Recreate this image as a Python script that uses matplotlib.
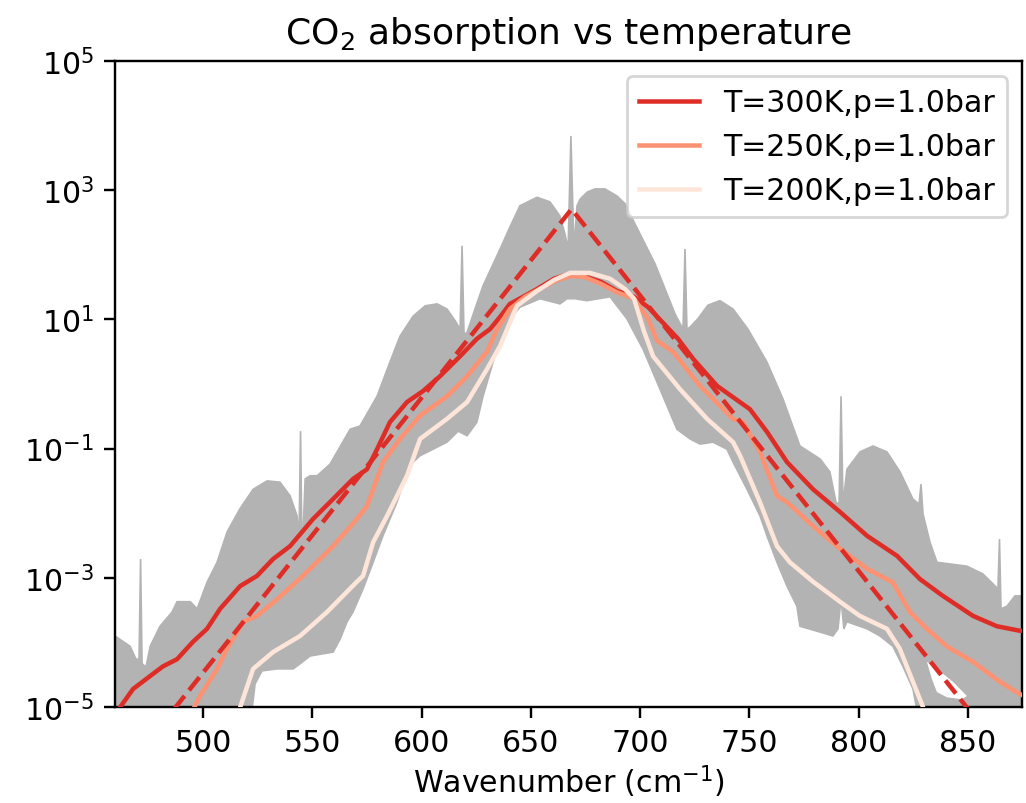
import numpy as np
import matplotlib
matplotlib.use("Agg")
import matplotlib.pyplot as plt
from matplotlib.ticker import NullLocator, FixedLocator

plt.rcParams['font.family'] = ['DejaVu Sans']
plt.rcParams['font.size'] = 10.8
plt.rcParams['axes.linewidth'] = 0.86
for a in ('xtick', 'ytick'):
    plt.rcParams[a + '.major.size'] = 3.8
    plt.rcParams[a + '.major.width'] = 0.86
    plt.rcParams[a + '.major.pad'] = 3.8

# ---- gray line-by-line spectrum envelope (wavenumber, log10 absorption) ----
upper_wn = [459.7, 466.6, 469.3, 470.7, 471.4, 472.1, 473.9, 475.8, 480.3, 485.8, 488.1, 494.1, 497.3,
            501.8, 506.4, 511.0, 516.9, 522.9, 529.3, 535.2, 539.8, 543.0, 543.9, 544.6, 545.3, 546.7,
            549.0, 552.2, 558.1, 567.3, 571.8, 579.6, 585.5, 590.1, 596.1, 601.6, 607.1, 611.6, 615.3,
            617.6, 618.5, 619.4, 620.8, 624.4, 628.1, 635.9, 640.4, 645.0, 652.8, 658.7, 663.3, 665.6,
            667.0, 668.3, 669.7, 671.1, 672.5, 675.7, 679.3, 683.9, 689.4, 693.1, 697.6, 702.2, 706.8,
            711.4, 716.0, 719.6,
            720.5, 721.4, 722.8, 726.4, 731.0, 736.5, 742.5, 749.3, 758.0, 765.3, 773.1, 782.3, 786.8,
            789.6, 791.0, 791.9, 792.8, 794.6, 800.6, 806.5, 812.9, 818.9, 824.8, 827.6, 828.5, 829.4,
            832.6, 835.8, 849.5, 856.8, 863.7, 864.4, 865.1, 867.8, 871.5, 875.0]
upper_lg = [-3.90, -4.06, -4.26, -4.26, -2.71, -4.33, -4.38, -4.06, -3.75, -3.53, -3.37, -3.37, -3.48,
            -3.07, -2.76, -2.29, -1.93, -1.63, -1.50, -1.52, -1.73, -2.04, -2.40, -0.73, -2.71, -1.47,
            -1.42, -1.42, -1.24, -0.70, -0.65, -0.19, 0.34, 0.74, 1.05, 1.21, 1.24, 1.16, 0.98,
            0.85, 2.14, 0.77, 0.80, 1.16, 1.52, 2.09, 2.43, 2.76, 2.89, 2.82, 2.60, 2.32,
            2.09, 3.84, 2.09, 2.76, 2.86, 2.97, 3.02, 3.02, 2.91, 2.79, 2.48, 2.17, 1.86,
            1.47, 1.08, 0.85,
            2.09, 0.85, 0.88, 1.01, 1.22, 1.29, 1.16, 0.85, 0.34, -0.23, -0.96, -1.16, -1.36,
            -1.83, -1.86, -0.19, -1.86, -1.32, -1.05, -0.96, -1.05, -1.36, -1.78, -1.86, -1.55, -2.01,
            -2.45, -2.76, -2.82, -2.94, -3.17, -2.40, -3.48, -3.44, -3.28, -3.28]

lower_wn = [459.7, 521.5, 523.8, 527.0, 533.9, 541.2, 544.4, 549.0, 559.5, 562.7, 565.9, 568.6, 573.2,
            577.8, 582.3, 588.7, 593.3, 596.1, 599.3, 605.2, 611.6, 616.7, 620.8, 625.3, 628.1, 632.7,
            635.9, 640.4, 645.0, 654.2, 663.3, 666.5, 670.2, 675.7, 686.2, 693.9, 701.3, 707.7, 712.3,
            716.8, 722.8, 727.4, 733.3, 739.7, 742.5, 748.9, 754.8, 758.0, 762.6, 767.2, 771.7, 773.1,
            782.3, 788.2, 790.5, 791.9, 793.2, 794.6, 803.8, 809.7, 815.6, 820.2, 824.8, 828.0, 875.0]
lower_lg = [-5.3, -5.3, -4.64, -4.44, -4.41, -4.41, -4.33, -4.21, -4.15, -3.95, -3.68, -3.53, -3.17,
            -2.76, -2.35, -1.83, -1.36, -1.21, -1.11, -1.01, -0.90, -0.73, -0.80, -0.59, -0.19, 0.34,
            0.65, 1.01, 1.19, 1.32, 1.24, 1.32, 1.32, 1.29, 1.35, 1.01, 0.54, 0.03, -0.34,
            -0.70, -0.85, -0.93, -0.90, -1.01, -1.21, -1.63, -2.04, -2.35, -2.76, -3.13, -3.44, -3.75,
            -3.84, -3.90, -3.79, -3.33, -3.79, -3.68, -3.79, -3.90, -4.06, -4.37, -4.72, -5.3, -5.3]

# gap inside the gray band near the bottom right
gap_wn = [831.2, 835.8, 843.1, 849.5, 847.2, 840.4, 835.8, 833.5]
gap_lg = [-4.30, -4.41, -4.61, -4.83, -4.88, -4.85, -4.77, -4.57]

# ---- smoothed band-averaged absorption (wavenumber, log10 value) ----
t300_wn = [460.0, 468.0, 475.8, 481.7, 488.1, 495.4, 501.8, 507.8, 516.9, 524.7, 532.0, 539.8, 550.3,
           559.5, 568.6, 575.0, 579.6, 585.5, 593.3, 600.6, 608.4, 617.6, 625.3, 631.3, 635.9, 640.4,
           646.4, 652.8, 660.6, 667.9, 674.3, 682.1, 689.4, 697.2, 703.6, 710.9, 717.3, 724.2, 735.2,
           750.2, 758.0, 767.2, 779.1, 791.4, 803.8, 817.5, 828.0, 838.5, 852.3, 863.2, 873.7, 875.0]
t300_lg = [-5.10, -4.72, -4.52, -4.37, -4.26, -3.99, -3.79, -3.48, -3.13, -2.97, -2.71, -2.51, -2.09,
           -1.78, -1.47, -1.32, -1.01, -0.59, -0.28, -0.11, 0.12, 0.43, 0.70, 0.85, 1.04, 1.24,
           1.35, 1.47, 1.63, 1.71, 1.67, 1.58, 1.44, 1.35, 1.19, 0.93, 0.70, 0.39, -0.03,
           -0.39, -0.74, -1.21, -1.63, -1.98, -2.35, -2.66, -3.02, -3.28, -3.59, -3.75, -3.82, -3.82]

t250_wn = [490.0, 498.6, 506.4, 511.0, 518.3, 524.7, 533.9, 545.7, 559.5, 570.4, 575.0, 582.3, 590.1,
           599.3, 611.6, 620.8, 629.9, 634.5, 640.4, 647.3, 660.6, 667.9, 674.3, 682.1, 689.4, 697.2,
           703.6, 707.7, 715.0, 727.4, 742.5, 747.0, 754.8, 762.6, 767.2, 779.1, 791.4, 803.8, 815.6,
           823.4, 831.2, 840.3, 852.3, 864.6, 873.7, 875.0]
t250_lg = [-5.40, -4.83, -4.41, -4.10, -3.68, -3.59, -3.33, -2.97, -2.51, -2.09, -1.89, -1.21, -0.85,
           -0.49, -0.19, 0.12, 0.50, 0.85, 1.16, 1.35, 1.59, 1.67, 1.66, 1.55, 1.42, 1.32,
           1.01, 0.67, 0.50, -0.03, -0.54, -0.59, -1.05, -1.73, -1.83, -2.20, -2.55, -2.86, -3.07,
           -3.53, -3.79, -4.06, -4.30, -4.61, -4.80, -4.82]

t200_wn = [514.0, 522.9, 532.0, 544.4, 556.7, 570.4, 573.2, 577.8, 584.2, 593.3, 599.3, 611.6, 620.8,
           629.9, 635.9, 643.6, 652.8, 660.6, 667.9, 677.0, 686.2, 693.0, 697.2, 701.7, 705.9, 718.2,
           730.6, 742.5, 745.7, 754.8, 762.6, 768.5, 779.1, 791.4, 800.5, 812.9, 818.8, 824.8, 829.4,
           831.0]
t200_lg = [-5.30, -4.41, -4.15, -3.90, -3.53, -3.06, -2.97, -2.45, -2.04, -1.42, -0.85, -0.54, -0.28,
           0.23, 0.59, 1.21, 1.44, 1.61, 1.72, 1.72, 1.63, 1.47, 1.32, 0.82, 0.43, -0.08,
           -0.54, -0.90, -1.11, -1.83, -2.51, -2.76, -3.06, -3.37, -3.59, -3.79, -4.10, -4.61, -5.00,
           -5.30]

# ---- exponential fit (dashed) ----
fit_wn = [480.0, 668.6, 860.0]
fit_val = [4.8e-6, 5.1e2, 3.5e-6]

labels = ['T=300K,p=1.0bar', 'T=250K,p=1.0bar', 'T=200K,p=1.0bar']
colors = ['#de2d26', '#fc9272', '#fee5d9']
LW = 1.62

fig = plt.figure(figsize=(5.13, 4.02), dpi=200)
ax = fig.add_axes([115 / 1026, 1 - 708 / 804, 907 / 1026, 646 / 804])

poly_x = np.concatenate([upper_wn, lower_wn[::-1]])
poly_y = 10.0 ** np.concatenate([upper_lg, lower_lg[::-1]])
ax.fill(poly_x, poly_y, color='0.7', lw=0.6, ec='0.7', zorder=1)
ax.fill(gap_wn, 10.0 ** np.array(gap_lg), color='white', lw=0, zorder=1.5)

ax.plot(t300_wn, 10.0 ** np.array(t300_lg), color=colors[0], lw=LW, label=labels[0], zorder=3)
ax.plot(t250_wn, 10.0 ** np.array(t250_lg), color=colors[1], lw=LW, label=labels[1], zorder=3)
ax.plot(t200_wn, 10.0 ** np.array(t200_lg), color=colors[2], lw=LW, label=labels[2], zorder=3)
ax.plot(fit_wn, fit_val, color=colors[0], lw=LW, ls='--', zorder=4)

ax.set_yscale('log')
ax.set_xlim(459.7, 874.7)
ax.set_ylim(1e-5, 1e5)
ax.yaxis.set_major_locator(FixedLocator([1e-5, 1e-3, 1e-1, 1e1, 1e3, 1e5]))
ax.yaxis.set_minor_locator(NullLocator())
ax.xaxis.set_major_locator(FixedLocator([500, 550, 600, 650, 700, 750, 800, 850]))
ax.xaxis.set_minor_locator(NullLocator())

ax.set_title('CO$_2$ absorption vs temperature', fontsize=13, pad=6.5)
ax.set_xlabel('Wavenumber (cm$^{-1}$)', labelpad=2.0)
ax.legend(loc='upper right')

fig.savefig('out.png', dpi=200)
